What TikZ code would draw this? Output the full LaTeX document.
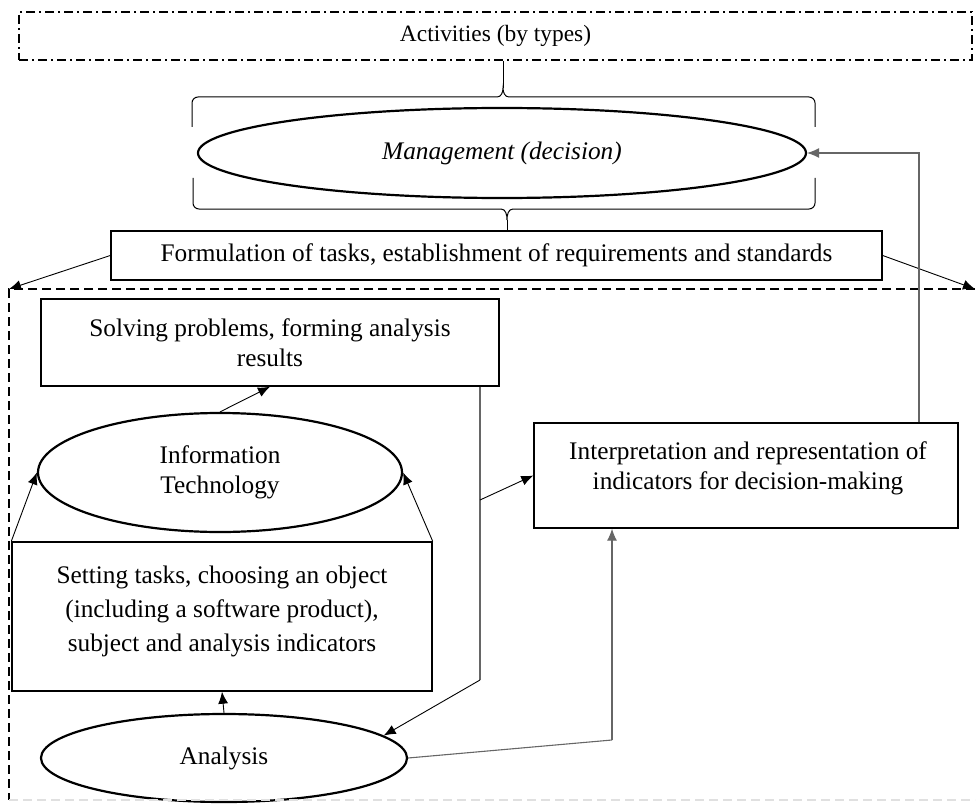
\documentclass[tikz,border=0pt]{standalone}
\usepackage{fontspec}
\setmainfont{Liberation Serif}
\usetikzlibrary{shapes.geometric,arrows.meta}
\begin{document}
\begin{tikzpicture}[x=1pt,y=-1pt,
    font=\fontsize{25.3}{30.5}\selectfont,
    box/.style={draw,line width=1.4pt,inner sep=0pt,align=center},
    oval/.style={draw,ellipse,line width=2.2pt,inner sep=0pt,align=center},
    arr/.style={-{Latex[length=12pt,width=10pt]}},
    link/.style={line width=0.9pt,arr},
    wire/.style={draw=black!60,line width=1.1pt},
    brace/.style={line width=1pt},
    frame/.style={line width=1.6pt,dash pattern=on 9pt off 5pt}]
    \useasboundingbox (0,0) rectangle (976,805);
    \node[draw,line width=1.5pt,dash pattern=on 9pt off 4pt on 2pt off 4pt,
          minimum width=953pt,minimum height=48pt,font=\fontsize{23.4}{28}\selectfont]
          (act) at (495.5,36) {Activities (by types)};
    \node[oval,minimum width=608pt,minimum height=90pt] (mgmt) at (502,153) {\itshape Management (decision)};
    \node[box,minimum width=771pt,minimum height=49pt] (form) at (496.5,255.5)
        {Formulation of tasks, establishment of requirements and standards};
    \node[box,minimum width=458pt,minimum height=87pt] (solve) at (270,342.5)
        {Solving problems, forming analysis\\results};
    \node[oval,minimum width=364pt,minimum height=119pt] (it) at (220,472.5) {Information\\Technology};
    \node[box,minimum width=424pt,minimum height=105pt] (interp) at (746,475.5) {};
    \node[align=center] (interptext) at (748,468.5)
        {Interpretation and representation of\\indicators for decision-making};
    \node[box,minimum width=420pt,minimum height=149pt] (setting) at (222,616.5) {};
    \node[align=center] (settingtext) at (222,611)
        {Setting tasks, choosing an object\\[3.5pt](including a software product),\\[3.5pt]subject and analysis indicators};
    \node[oval,minimum width=366pt,minimum height=88pt] (analysis) at (224,758) {Analysis};
    \coordinate (tcusp) at (503,88);
    \coordinate (bcusp) at (507,220);
    \coordinate (ftl) at (9,289);
    \coordinate (ftr) at (975,289);
    \coordinate (fbl) at (9,800);
    \coordinate (fbr) at (975,800);
    \coordinate (split) at (480,500);
    \coordinate (drop) at (480,680);
    \coordinate (turn) at (612,740);
    \coordinate (rise) at (919,150);
    % braces round the management oval
    \draw[brace] (192,127) -- (192,103) to[out=90,in=180] (198,97) -- (497,97)
        to[out=0,in=-90] (tcusp) to[out=-90,in=180] (509,97) -- (809,97)
        to[out=0,in=90] (815,103) -- (815,127);
    \draw[brace] (tcusp) -- (act.south -| tcusp);
    \draw[brace] (193,178) -- (193,203) to[out=-90,in=180] (199,209) -- (501,209)
        to[out=0,in=90] (bcusp) to[out=90,in=180] (513,209) -- (809,209)
        to[out=0,in=-90] (815,203) -- (815,178);
    \draw[brace] (bcusp) -- (form.north -| bcusp);
    % dashed frame
    \draw[frame] (ftr) -- (ftl) -- (fbl);
    \draw[frame,draw=black!12] (fbl) -- (fbr);
    \draw[link] (form.west) -- (ftl);
    \draw[link] (form.east) -- (ftr);
    \draw[link] (it.north) -- (solve.south);
    \draw[link] (setting.north west) -- (it.west);
    \draw[link] (setting.north east) -- (it.east);
    \draw[link] (analysis.north) -- (setting.south);
    \draw[wire] (solve.south -| drop) -- (drop);
    \draw[link] (drop) -- (analysis.8);
    \draw[link] (split) -- (interp.west);
    \draw[wire] (analysis.east) -- (turn);
    \draw[wire,arr] (turn) -- (interp.south -| turn);
    \draw[wire,arr] (interp.north -| rise) |- (mgmt.east);
\end{tikzpicture}
\end{document}
